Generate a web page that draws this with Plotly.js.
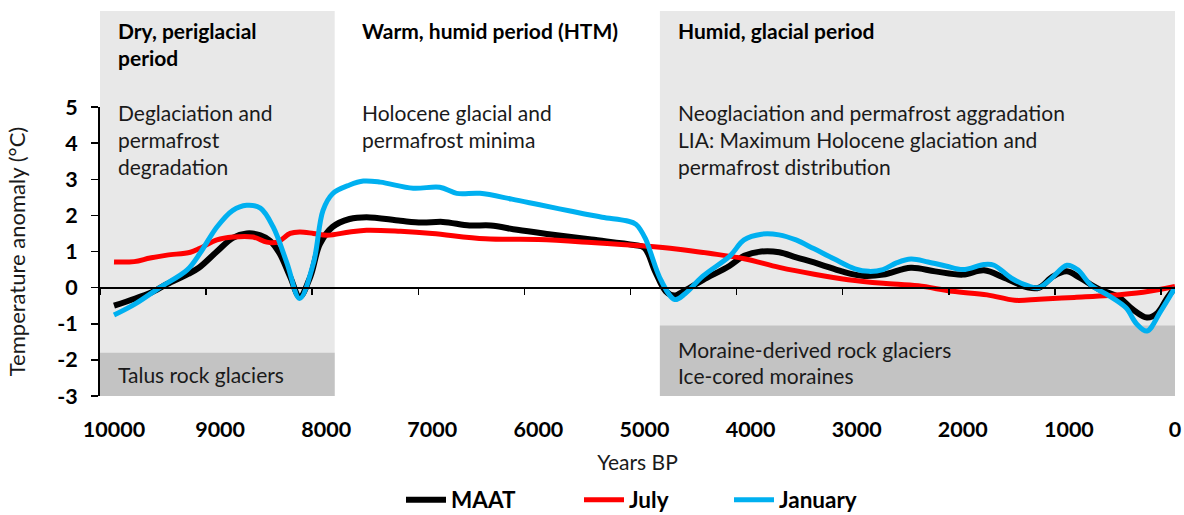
<!DOCTYPE html>
<html><head><meta charset="utf-8">
<script src="https://cdn.plot.ly/plotly-3.0.1.min.js"></script>
<style>html,body{margin:0;padding:0;background:#fff}</style>
</head><body><div id="chart" style="width:1184px;height:515px"></div>
<script>
// ---- data (years BP, temperature anomaly °C) ----
const maatX = [10000,9800,9660,9500,9300,9200,9030,8880,8750,8620,8530,8440,8340,8250,8150,8060,7940,7780,7620,7300,7100,6900,6650,6450,6200,5900,5500,5100,5000,4900,4800,4720,4620,4450,4200,4060,3900,3730,3570,3340,3140,2950,2750,2490,2260,2000,1800,1600,1380,1280,1150,1020,890,725,530,400,265,165,70,0];
const maatY = [-0.5,-0.3,-0.15,0.1,0.38,0.55,1.0,1.38,1.5,1.45,1.3,0.95,0.3,-0.25,0.3,1.2,1.68,1.9,1.95,1.85,1.8,1.82,1.72,1.72,1.6,1.48,1.33,1.18,1.1,0.45,-0.1,-0.22,-0.08,0.21,0.6,0.88,1.0,0.98,0.84,0.64,0.45,0.33,0.36,0.55,0.45,0.36,0.48,0.26,0.0,0.0,0.31,0.45,0.26,-0.03,-0.27,-0.6,-0.83,-0.7,-0.27,0];

const julyX = [10000,9810,9660,9500,9280,9190,9030,8880,8690,8560,8460,8340,8250,8120,7990,7780,7620,7300,7000,6500,6000,5500,5000,4700,4390,4060,3730,3400,3080,2750,2420,2100,1770,1510,1280,950,625,300,0];
const julyY = [0.71,0.72,0.82,0.9,0.98,1.09,1.32,1.4,1.4,1.26,1.26,1.5,1.54,1.5,1.45,1.54,1.59,1.56,1.5,1.35,1.33,1.25,1.15,1.07,0.95,0.8,0.56,0.37,0.22,0.12,0.05,-0.1,-0.2,-0.35,-0.32,-0.27,-0.22,-0.13,0.03];

const janX = [10000,9800,9570,9310,9190,9030,8880,8750,8620,8500,8370,8250,8120,8030,7940,7780,7650,7490,7180,6930,6770,6550,6250,6000,5700,5400,5170,5080,4990,4944,4846,4715,4618,4453,4194,4062,3897,3732,3572,3406,3210,3016,2884,2752,2620,2488,2328,2162,1998,1800,1706,1541,1376,1282,1181,1018,919,792,625,462,363,264,134,0];
const janY = [-0.76,-0.45,0.0,0.49,0.95,1.68,2.14,2.28,2.2,1.68,0.68,-0.3,0.68,2.14,2.6,2.84,2.95,2.92,2.75,2.78,2.61,2.61,2.45,2.3,2.12,1.95,1.85,1.75,1.35,0.98,0.21,-0.33,-0.17,0.31,0.88,1.32,1.48,1.46,1.32,1.08,0.79,0.52,0.45,0.5,0.69,0.79,0.71,0.6,0.5,0.64,0.62,0.26,0.04,0.0,0.21,0.62,0.5,0.07,-0.22,-0.56,-1.0,-1.2,-0.65,0];

const xTickVals = [10000,9000,8000,7000,6000,5000,4000,3000,2000,1000,0];
const xTickText = ['10000','9000','8000','7000','6000','5000','4000','3000','2000','1000','0'];
const yTickVals = [-3,-2,-1,0,1,2,3,4,5];
const yTickText = ['-3','-2','-1','0','1','2','3','4','5'];

// periods: [start, end] in years BP, and top of landform band (°C)
const periodStart = [10132, 4855];
const periodEnd = [7920, 0];
const bandTop = [-1.8, -1.05];

const headerLines = [["Dry, periglacial","period"],["Warm, humid period (HTM)"],["Humid, glacial period"]];
const noteLines = [["Deglaciation and","permafrost","degradation"],["Holocene glacial and","permafrost minima"],["Neoglaciation and permafrost aggradation","LIA: Maximum Holocene glaciation and","permafrost distribution"]];
const landformLines = [["Talus rock glaciers"],[],["Moraine-derived rock glaciers","Ice-cored moraines"]];

// ---- layout helpers ----
const FONT = 'Lato, "Open Sans", sans-serif';
const M = {l:100, r:9, t:107, b:119};
const W = 1184, H = 515;
const pw = W - M.l - M.r, ph = H - M.t - M.b;
const px2x = p => (p - M.l) / pw;
const py2y = p => (H - M.b - p) / ph;
const yMin = -3, yMax = 5;
const yPaper = v => (v - yMin) / (yMax - yMin);

const colLeft = [116, 360, 676];
const headerY = [31, 57];
const noteY = [112, 139, 166];
const landY = [[374],[],[349,375]];
const TXT = 21;

const annotations = [];
headerLines.forEach((lines, c) => lines.forEach((t, i) => annotations.push({
  text: t, xref:'paper', yref:'paper', x: px2x(colLeft[c]), y: py2y(headerY[i]),
  xanchor:'left', yanchor:'middle', showarrow:false, font:{family:FONT, size:TXT, color:'#000', weight:'bold'}
})));
noteLines.forEach((lines, c) => lines.forEach((t, i) => annotations.push({
  text: t, xref:'paper', yref:'paper', x: px2x(colLeft[c]), y: py2y(noteY[i]),
  xanchor:'left', yanchor:'middle', showarrow:false, font:{family:FONT, size:TXT, color:'#1a1a1a'}
})));
landformLines.forEach((lines, c) => lines.forEach((t, i) => annotations.push({
  text: t, xref:'paper', yref:'paper', x: px2x(colLeft[c]), y: py2y(landY[c][i]),
  xanchor:'left', yanchor:'middle', showarrow:false, font:{family:FONT, size:TXT, color:'#1a1a1a'}
})));

const shapes = [];
const topPaper = py2y(11);
periodStart.forEach((s, i) => {
  shapes.push({type:'rect', xref:'x', yref:'paper', x0:s, x1:periodEnd[i], y0:0, y1:topPaper,
    fillcolor:'#e8e8e8', line:{width:0}, layer:'below'});
  shapes.push({type:'rect', xref:'x', yref:'paper', x0:s, x1:periodEnd[i], y0:0, y1:yPaper(bandTop[i]),
    fillcolor:'#c3c3c3', line:{width:0}, layer:'below'});
});

const lineW = 5;
const traces = [
  {x:maatX, y:maatY, name:'MAAT', legend:'legend', mode:'lines', line:{color:'#000000', width:6, shape:'spline', smoothing:1}},
  {x:julyX, y:julyY, name:'July', legend:'legend2', mode:'lines', line:{color:'#ff0000', width:lineW, shape:'spline', smoothing:1}},
  {x:janX, y:janY, name:'January', legend:'legend3', mode:'lines', line:{color:'#00b0f0', width:lineW, shape:'spline', smoothing:1}},
  {x:[], y:[], xaxis:'x2', yaxis:'y', showlegend:false, hoverinfo:'skip', mode:'lines'}
];

const legFont = {family:FONT, size:22.5, weight:'bold', color:'#000'};
const legBase = {orientation:'h', xref:'container', yref:'container', xanchor:'left', yanchor:'middle',
  y: 1 - 500 / H, font:legFont, itemwidth:40, bgcolor:'rgba(0,0,0,0)', borderwidth:0, tracegroupgap:0};
const legStartPx = [407, 585, 735];
const legOffset = 6;

const xRange = [10132, 0];
const tickOffset = 132;
const layout = {
  width: W, height: H, margin: M,
  paper_bgcolor:'#ffffff', plot_bgcolor:'rgba(0,0,0,0)',
  font:{family:FONT, color:'#000'},
  showlegend:true,
  legend:Object.assign({}, legBase, {x:(legStartPx[0]-legOffset)/W}),
  legend2:Object.assign({}, legBase, {x:(legStartPx[1]-legOffset)/W}),
  legend3:Object.assign({}, legBase, {x:(legStartPx[2]-legOffset)/W}),
  xaxis:{range:xRange, tickvals:xTickVals, ticktext:xTickText, showline:false, ticks:'', showgrid:false, zeroline:false,
    automargin:false,
    tickfont:{family:FONT, size:21.5, weight:'bold', color:'#000'}, ticklabelstandoff:18,
    title:{text:'Years BP', font:{family:FONT, size:21, color:'#1a1a1a'}, standoff:14}, fixedrange:true},
  xaxis2:{range:xRange, overlaying:'x', anchor:'free', position:yPaper(0), side:'bottom', automargin:false,
    tickvals:xTickVals.map(v => v + tickOffset), showticklabels:false, ticks:'outside', ticklen:6, tickwidth:1.5, tickcolor:'#000',
    showline:true, linecolor:'#000', linewidth:2, showgrid:false, zeroline:false},
  yaxis:{range:[yMin, yMax], tickvals:yTickVals, ticktext:yTickText, showline:true, linecolor:'#000', linewidth:2,
    automargin:false,
    ticks:'outside', ticklen:7, tickwidth:1.5, tickcolor:'#000', showgrid:false, zeroline:false,
    tickfont:{family:FONT, size:21.5, weight:'bold', color:'#000'}, ticklabelstandoff:9,
    title:{text:'Temperature anomaly (°C)', font:{family:FONT, size:22, color:'#1a1a1a'}, standoff:26}},
  shapes, annotations
};
Plotly.newPlot('chart', traces, layout, {staticPlot:true, displayModeBar:false});
</script></body></html>
